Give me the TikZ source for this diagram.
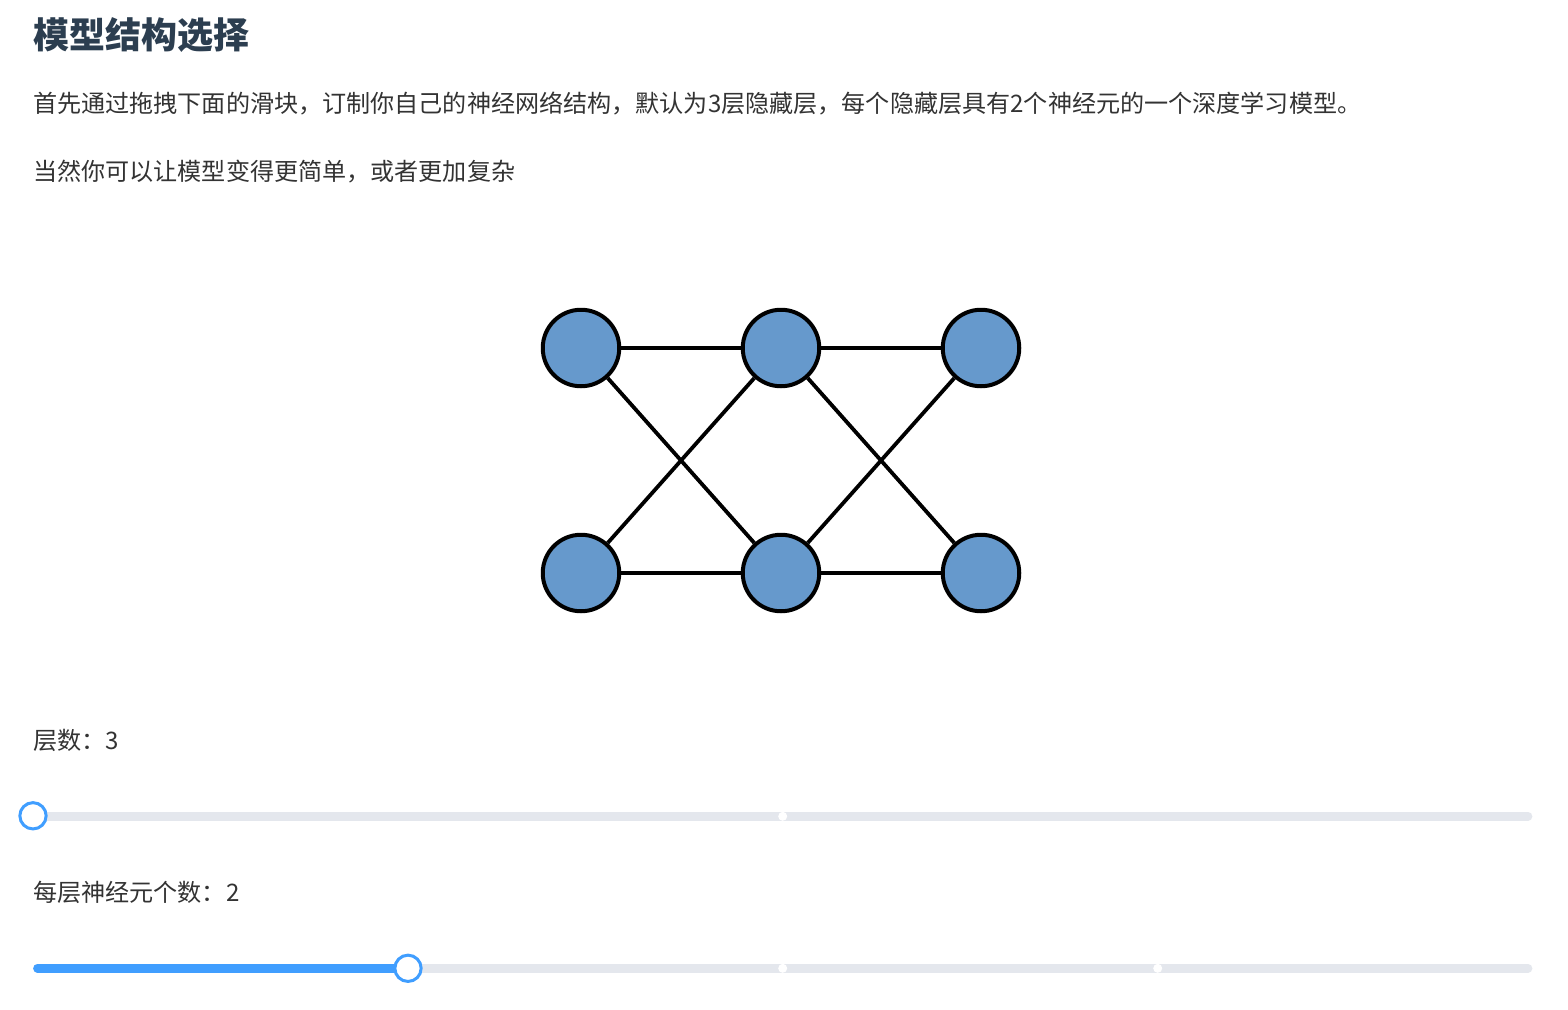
\documentclass[tikz,border=0pt]{standalone}
\usepackage{fontspec}
\setmainfont{Noto Sans CJK SC}
\definecolor{titlec}{HTML}{2C3E50}
\definecolor{bodyc}{HTML}{333333}
\definecolor{neuron}{HTML}{6699CC}
\definecolor{track}{HTML}{E4E7ED}
\definecolor{sblue}{HTML}{409EFF}
\begin{document}
\begin{tikzpicture}[x=1pt,y=-1pt,
  neuronnode/.style={circle,draw=black,fill=neuron,line width=4pt,minimum size=76.5pt,inner sep=0pt},
  link/.style={draw=black,line width=3.8pt},
  txt/.style={anchor=west,inner sep=0pt,text=bodyc,font=\fontsize{24.1}{28}\selectfont},
  trackline/.style={draw=track,line width=8.7pt,line cap=round},
  activeline/.style={draw=sblue,line width=8.7pt,line cap=round},
  knob/.style={circle,draw=sblue,fill=white,line width=3pt,minimum size=26.3pt,inner sep=0pt},
  stopdot/.style={circle,fill=white,minimum size=9pt,inner sep=0pt}]
\useasboundingbox[fill=white] (0,0) rectangle (1568,1009);
% texts
\node[anchor=west,inner sep=0pt,text=titlec,font=\fontsize{36}{40}\selectfont\bfseries] (title) at (33,35) {模型结构选择};
\node[txt] (p1) at (33,104) {首先通过拖拽下面的滑块，订制你自己的神经网络结构，默认为3层隐藏层，每个隐藏层具有2个神经元的一个深度学习模型。};
\node[txt] (p2) at (33,172) {当然你可以让模型变得更简单，或者更加复杂};
% network
\node[neuronnode] (a1) at (581,348) {};
\node[neuronnode] (b1) at (781,348) {};
\node[neuronnode] (c1) at (981,348) {};
\node[neuronnode] (a2) at (581,573) {};
\node[neuronnode] (b2) at (781,573) {};
\node[neuronnode] (c2) at (981,573) {};
\draw[link] (a1) -- (b1);
\draw[link] (b1) -- (c1);
\draw[link] (a2) -- (b2);
\draw[link] (b2) -- (c2);
\draw[link] (a1) -- (b2);
\draw[link] (a2) -- (b1);
\draw[link] (b1) -- (c2);
\draw[link] (b2) -- (c1);
% slider 1
\node[txt] (l1) at (33,740) {层数：3};
\coordinate (s1l) at (37.5,816.3);
\coordinate (s1r) at (1528,816.3);
\draw[trackline] (s1l) -- (s1r);
\node[stopdot] (s1d1) at (782.7,816.3) {};
\node[knob] (k1) at (33,815.8) {};
% slider 2
\node[txt] (l2) at (33,892) {每层神经元个数：2};
\coordinate (s2l) at (37.5,968.3);
\coordinate (s2r) at (1528,968.3);
\coordinate (s2k) at (408,968.3);
\draw[trackline] (s2l) -- (s2r);
\draw[activeline] (s2l) -- (s2k);
\node[stopdot] (s2d1) at (782.7,968.3) {};
\node[stopdot] (s2d2) at (1157.7,968.3) {};
\node[knob] (k2) at (s2k) {};
\end{tikzpicture}
\end{document}
